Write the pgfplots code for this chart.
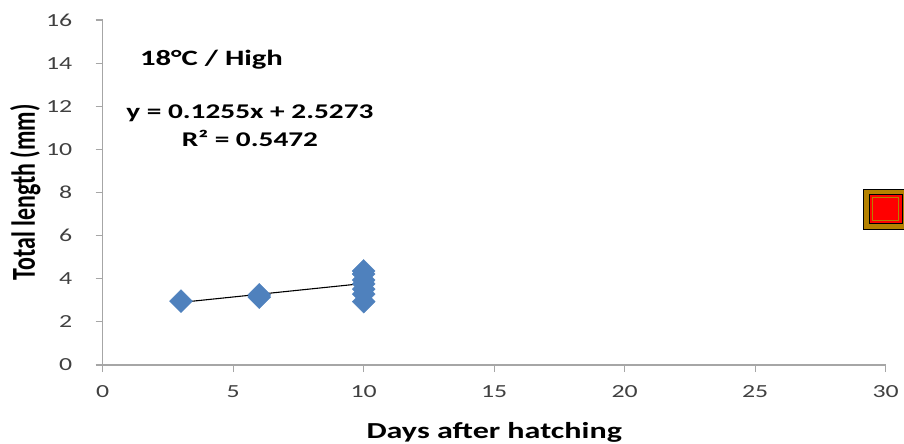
\documentclass[border=0pt]{standalone}
\usepackage{pgfplots}
\pgfplotsset{compat=1.18}
\usepackage{fontspec}
\setmainfont[FakeStretch=1.4]{Carlito}
\newfontfamily\plainfont{Carlito}
\definecolor{axisgray}{HTML}{A6A6A6}
\definecolor{tickgray}{HTML}{404040}
\definecolor{xlblue}{HTML}{4F81BD}
\definecolor{mbrown}{HTML}{B58200}
\begin{document}
\begin{tikzpicture}
\begin{axis}[
  scale only axis, width=783bp, height=345bp,
  xmin=0, xmax=30, ymin=0, ymax=16,
  xtick={0,5,...,30}, ytick={0,2,...,16},
  axis lines=left,
  axis line style={-, draw=axisgray, line width=1.3bp},
  tick style={draw=axisgray, line width=1.2bp},
  major tick length=7bp, tick align=outside,
  /pgf/number format/assume math mode=true,
  ticklabel style={font=\fontsize{18.5}{20}\selectfont, text=tickgray},
  yticklabel style={xshift=-20bp},
  xticklabel style={yshift=-10bp},
  xlabel={Days after hatching},
  ylabel={\scalebox{0.7143}[1.4]{Total length (mm)}},
  every axis x label/.style={at={(rel axis cs:0.5,0)}, anchor=base, yshift=-73bp,
     font=\bfseries\fontsize{23}{27}\selectfont},
  every axis y label/.style={at={([xshift=-67.7bp]rel axis cs:0,0.5)}, rotate=90, anchor=base,
     font=\bfseries\fontsize{24}{28}\selectfont},
  clip=false,
]
% observations
\addplot[only marks, color=xlblue, mark=diamond*, mark size=11.5bp, mark options={xscale=1.33}]
  coordinates {(3,2.96) (6,3.25) (6,3.15)
               (10,4.36) (10,4.22) (10,3.94) (10,3.76) (10,3.52) (10,3.29) (10,2.94)};
% linear trendline
\addplot[black, line width=1.1bp] coordinates {(3,2.904) (10,3.782)};
% square marker at right edge
\addplot[only marks, mark=square*, mark size=20bp, mark options={fill=mbrown, draw=none, xscale=1.12}] coordinates {(30,7.23)};
\addplot[only marks, mark=square*, mark size=14.5bp, mark options={fill=red, draw=none, xscale=1.12}] coordinates {(30,7.23)};
\addplot[only marks, mark=square, mark size=11.5bp, mark options={draw=mbrown, line width=1.2bp, xscale=1.12}] coordinates {(30,7.23)};
% annotations
\node[anchor=base, font=\bfseries\fontsize{22}{26}\selectfont] at (axis cs:4.17,13.91) {18°C / High};
\node[anchor=base, font=\bfseries\fontsize{21}{24}\selectfont] at (axis cs:5.64,11.455) {y = 0.1255x + 2.5273};
\node[anchor=base, font=\bfseries\fontsize{21}{24}\selectfont] at (axis cs:5.64,10.12) {R² = 0.5472};
\end{axis}
\pgfresetboundingbox
\useasboundingbox (-102.7bp,-79bp) rectangle (801.3bp,365bp);
\end{tikzpicture}
\end{document}
